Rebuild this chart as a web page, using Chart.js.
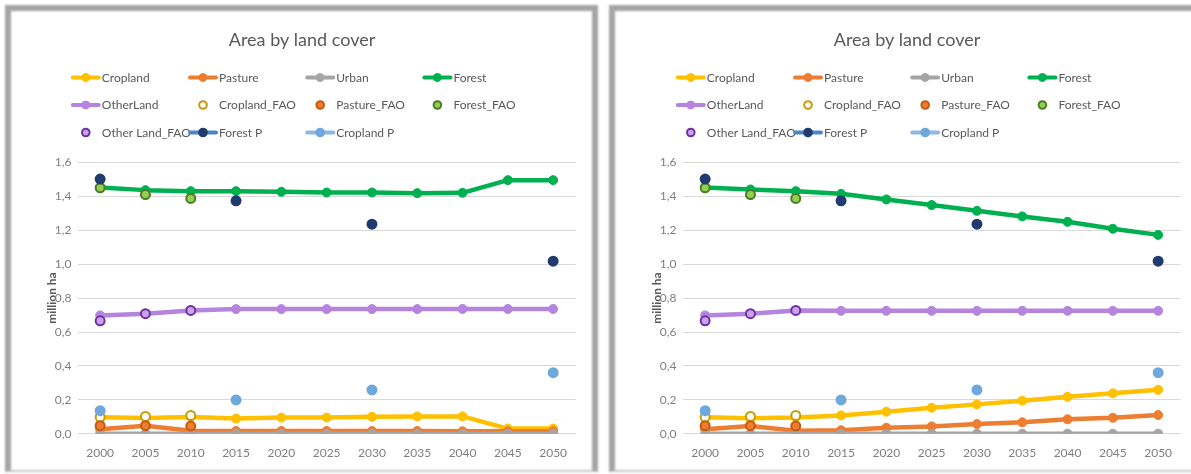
<!DOCTYPE html>
<html>
<head>
<meta charset="utf-8">
<title>Area by land cover</title>
<script src="https://cdn.jsdelivr.net/npm/chart.js@4.4.1/dist/chart.umd.min.js"></script>
<style>
  html, body { margin: 0; padding: 0; background: #fff; width: 1191px; height: 474px; overflow: hidden; position: relative; }
  .frame { position: absolute; top: 5px; height: 459px; background: #fff;
           border: 6px solid #a4a4a4; border-bottom-width: 2px; border-bottom-color: #c6c6c6;
           filter: blur(1.2px); }
  #frameA { left: 5px; width: 581px; }
  #frameB { left: 609px; width: 600px; }
  .holder { position: absolute; top: 0; width: 600px; height: 474px; }
  #holderA { left: 0; }
  #holderB { left: 605px; }
</style>
</head>
<body>
<div class="frame" id="frameA"></div>
<div class="frame" id="frameB"></div>
<div class="holder" id="holderA"><canvas id="chartA" width="600" height="474"></canvas></div>
<div class="holder" id="holderB"><canvas id="chartB" width="600" height="474"></canvas></div>

<script>
// Categories
const years = ['2000', '2005', '2010', '2015', '2020', '2025', '2030', '2035', '2040', '2045', '2050'];

// Scenario A (left panel), million ha
const croplandA  = [0.097, 0.093, 0.098, 0.089, 0.095, 0.095, 0.100, 0.102, 0.102, 0.030, 0.030];
const pastureA   = [0.026, 0.047, 0.018, 0.016, 0.016, 0.016, 0.016, 0.016, 0.014, 0.014, 0.014];
const urbanA     = [0, 0, 0, 0, 0, 0, 0, 0, 0, 0, 0];
const forestA    = [1.453, 1.437, 1.431, 1.431, 1.427, 1.423, 1.423, 1.419, 1.421, 1.496, 1.496];
const otherLandA = [0.698, 0.708, 0.727, 0.735, 0.735, 0.735, 0.735, 0.735, 0.736, 0.736, 0.736];

// Scenario B (right panel), million ha
const croplandB  = [0.097, 0.091, 0.095, 0.108, 0.130, 0.153, 0.173, 0.195, 0.218, 0.238, 0.259];
const pastureB   = [0.026, 0.045, 0.018, 0.020, 0.035, 0.043, 0.057, 0.067, 0.085, 0.094, 0.110];
const urbanB     = [0, 0, 0, 0, 0, 0, 0, 0, 0, 0, 0];
const forestB    = [1.453, 1.441, 1.431, 1.415, 1.382, 1.349, 1.315, 1.282, 1.250, 1.209, 1.173];
const otherLandB = [0.698, 0.708, 0.727, 0.725, 0.725, 0.725, 0.725, 0.725, 0.725, 0.725, 0.725];

// Observed FAO values and projections (shared by both panels)
const croplandFAO  = [0.097, 0.102, 0.108, null, null, null, null, null, null, null, null];
const pastureFAO   = [0.047, 0.047, 0.045, null, null, null, null, null, null, null, null];
const forestFAO    = [1.451, 1.411, 1.388, null, null, null, null, null, null, null, null];
const otherLandFAO = [0.666, 0.708, 0.727, null, null, null, null, null, null, null, null];
const forestP      = [1.502, null, null, 1.374, null, null, 1.236, null, null, null, 1.018];
const croplandP    = [0.136, null, null, 0.199, null, null, 0.258, null, null, null, 0.360];

// Y axis range
const yMin = 0;
const yMax = 1.6;
const yStep = 0.2;

const FONT = 'Lato, "Open Sans", sans-serif';

function lineSet(label, data, color, idx) {
  return {
    label, data,
    borderColor: color, backgroundColor: color,
    pointBackgroundColor: color, pointBorderColor: color,
    borderWidth: 4.5, pointRadius: 4.5, pointBorderWidth: 1,
    tension: 0, borderJoinStyle: 'round', borderCapStyle: 'round',
    showLine: true, order: 20 - idx,
    legendLine: color, legendFill: color, legendStroke: color
  };
}

function markerSet(label, data, fill, stroke, idx, legendLine) {
  return {
    label, data,
    borderColor: stroke, backgroundColor: fill,
    pointBackgroundColor: fill, pointBorderColor: stroke,
    pointBorderWidth: 2, pointRadius: 4.5,
    showLine: false, spanGaps: false, order: 20 - idx,
    legendLine: legendLine || null, legendFill: fill, legendStroke: stroke
  };
}

// Title and 4-column legend grid drawn above the plot area
const panelDecor = {
  id: 'panelDecor',
  afterDraw(chart, args, opts) {
    const ctx = chart.ctx;
    ctx.save();
    ctx.fillStyle = '#595959';
    ctx.font = '18px ' + FONT;
    ctx.textAlign = 'center';
    ctx.textBaseline = 'middle';
    ctx.fillText(opts.title, opts.titleX, opts.titleY);

    ctx.font = '12px ' + FONT;
    ctx.textAlign = 'left';
    chart.data.datasets.forEach((ds, i) => {
      const col = i % 4, row = Math.floor(i / 4);
      const x = opts.legendX + col * opts.colStep;
      const y = opts.legendY + row * opts.rowStep;
      if (ds.legendLine) {
        ctx.strokeStyle = ds.legendLine;
        ctx.lineWidth = 4;
        ctx.lineCap = 'round';
        ctx.beginPath();
        ctx.moveTo(x + 2, y);
        ctx.lineTo(x + 28, y);
        ctx.stroke();
      }
      ctx.beginPath();
      ctx.arc(x + 15, y, ds.showLine ? 4 : 3.8, 0, Math.PI * 2);
      ctx.fillStyle = ds.legendFill;
      ctx.fill();
      ctx.lineWidth = ds.showLine ? 1 : 2;
      ctx.strokeStyle = ds.legendStroke;
      ctx.stroke();
      ctx.fillStyle = '#595959';
      ctx.fillText(ds.label, x + 31, y + 0.5);
    });
    ctx.restore();
  }
};

function makeChart(id, cropland, pasture, urban, forest, otherLand) {
  const datasets = [
    lineSet('Cropland', cropland, '#FFC000', 0),
    lineSet('Pasture', pasture, '#ED7D31', 1),
    lineSet('Urban', urban, '#A5A5A5', 2),
    lineSet('Forest', forest, '#00B050', 3),
    lineSet('OtherLand', otherLand, '#B584DE', 4),
    markerSet('Cropland_FAO', croplandFAO, '#FFFFFF', '#C99A06', 5),
    markerSet('Pasture_FAO', pastureFAO, '#ED7D31', '#C55A11', 6),
    markerSet('Forest_FAO', forestFAO, '#92D050', '#4F7A28', 7),
    markerSet('Other Land_FAO', otherLandFAO, '#C9A2EE', '#7030A0', 8),
    markerSet('Forest P', forestP, '#1F3B70', '#1F3B70', 9, '#4A86C8'),
    markerSet('Cropland P', croplandP, '#6FA8DC', '#6FA8DC', 10, '#8DB8E2')
  ];

  return new Chart(document.getElementById(id), {
    type: 'line',
    data: { labels: years, datasets },
    plugins: [panelDecor],
    options: {
      responsive: false,
      devicePixelRatio: 1,
      animation: false,
      events: [],
      layout: { padding: { top: 162.5, right: 24.2, bottom: 0, left: 0 } },
      plugins: {
        legend: { display: false },
        title: { display: false },
        tooltip: { enabled: false },
        panelDecor: {
          title: 'Area by land cover', titleX: 302, titleY: 40,
          legendX: 70.8, legendY: 77.5, colStep: 117.2, rowStep: 27.5
        }
      },
      scales: {
        x: {
          offset: true,
          grid: { display: false, drawTicks: false },
          border: { display: false },
          ticks: { color: '#7F7F7F', font: { family: FONT, size: 12 }, padding: 12.5, maxRotation: 0 },
          afterFit(scale) { scale.height = 40.3; }
        },
        y: {
          min: yMin, max: yMax,
          grid: { color: '#D9D9D9', lineWidth: 1, drawTicks: false },
          border: { display: false },
          ticks: {
            stepSize: yStep,
            color: '#7F7F7F',
            font: { family: FONT, size: 12 },
            padding: 6,
            callback: v => v.toFixed(1).replace('.', ',')
          },
          title: {
            display: true, text: 'million ha', color: '#595959',
            font: { family: FONT, size: 12, weight: 'bold' },
            padding: { top: 44.8, bottom: 0 }
          },
          afterFit(scale) { scale.width = 77.5; }
        }
      }
    }
  });
}

makeChart('chartA', croplandA, pastureA, urbanA, forestA, otherLandA);
makeChart('chartB', croplandB, pastureB, urbanB, forestB, otherLandB);
</script>
</body>
</html>
